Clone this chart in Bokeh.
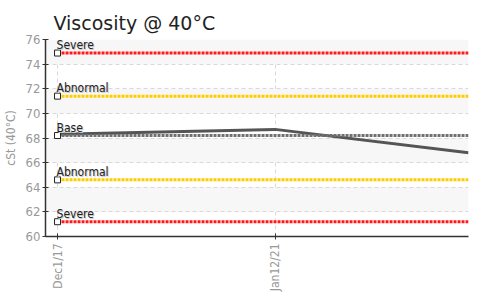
from datetime import datetime
from bokeh.plotting import figure
from bokeh.models import Range1d, FixedTicker, ColumnDataSource, Title
from bokeh.core.properties import value
from bokeh.embed import file_html
from bokeh.resources import INLINE

# ---- data ----
dates = ["2017-12-01", "2021-01-12", "2023-10-21"]
visc = [68.3, 68.7, 66.8]
tick_dates = ["2017-12-01", "2021-01-12"]
tick_labels = ["Dec1/17", "Jan12/21"]
limit_names = ["Severe", "Abnormal", "Base", "Abnormal", "Severe"]
limit_values = [74.9, 71.4, 68.2, 64.6, 61.2]
limit_colors = ["#ff1a1a", "#ffcc00", "#707070", "#ffcc00", "#ff1a1a"]
y_ticks = [60, 62, 64, 66, 68, 70, 72, 74, 76]
x_start, x_end = "2017-09-29", "2023-10-21"

NARROW = "DejaVu Sans Condensed"


def ms(s):
    return datetime.strptime(s, "%Y-%m-%d").timestamp() * 1000.0


xs = [ms(d) for d in dates]
x0, x1 = ms(x_start), ms(x_end)

p = figure(width=492, height=294, output_backend="svg",
           toolbar_location=None, x_axis_type="datetime",
           x_range=Range1d(x0, x1), y_range=Range1d(60, 76),
           min_border_left=40, min_border_right=24,
           min_border_top=39, min_border_bottom=52)
p.outline_line_color = None
p.background_fill_color = "white"

p.add_layout(Title(text="Viscosity @ 40°C", text_font="DejaVu Sans",
                   text_font_size="19px", text_font_style="normal",
                   text_color="#222222", offset=8, standoff=12), "above")

# grids
p.ygrid.ticker = FixedTicker(ticks=y_ticks)
p.ygrid.grid_line_color = "#d9d9d9"
p.ygrid.grid_line_dash = "4 3"
p.ygrid.band_fill_color = "#f7f7f7"
p.ygrid.band_fill_alpha = 1.0
tick_ms = [ms(d) for d in tick_dates]
p.xgrid.ticker = FixedTicker(ticks=tick_ms)
p.xgrid.grid_line_color = "#d9d9d9"
p.xgrid.grid_line_dash = "4 3"

# axes
p.yaxis.ticker = FixedTicker(ticks=y_ticks)
p.xaxis.ticker = FixedTicker(ticks=tick_ms)
p.xaxis.major_label_overrides = {t: l for t, l in zip(tick_ms, tick_labels)}
p.xaxis.major_label_orientation = 1.5708
for ax in (p.xaxis[0], p.yaxis[0]):
    ax.axis_line_color = "#333333"
    ax.axis_line_width = 1.5
    ax.major_tick_line_color = "#333333"
    ax.major_tick_in = 3
    ax.major_tick_out = 3
    ax.minor_tick_line_color = None
    ax.major_label_text_font = NARROW
    ax.major_label_text_font_size = "13px"
    ax.major_label_text_color = "#999999"
    ax.major_label_standoff = 2
p.xaxis.major_label_text_font_size = "12px"
p.xaxis.major_label_standoff = 4
p.yaxis.axis_label = "cSt (40°C)"
p.yaxis.axis_label_text_font = NARROW
p.yaxis.axis_label_text_font_size = "12px"
p.yaxis.axis_label_text_font_style = "normal"
p.yaxis.axis_label_text_color = "#999999"
p.yaxis.axis_label_standoff = 5

# data line
src = ColumnDataSource(dict(x=xs, y=visc))
p.line("x", "y", source=src, line_color="#555555", line_width=3)

# limit lines
first = xs[0]
for name, v, c in zip(limit_names, limit_values, limit_colors):
    p.segment(x0=[first], y0=[v], x1=[x1 + (x1 - x0)], y1=[v],
              line_color=c, line_width=3, line_dash="3 1")
    p.scatter([first], [v], marker="square", size=6, fill_color="white",
              line_color="#222222", line_width=1)
    p.text([first], [v], text=[name], x_offset=0, y_offset=0,
           text_font=value(NARROW), text_font_size="12px",
           text_color="#cccccc", text_baseline="bottom", text_align="left")
    p.text([first], [v], text=[name], x_offset=-1, y_offset=-1,
           text_font=value(NARROW), text_font_size="12px",
           text_color="#222222", text_baseline="bottom", text_align="left")

open("out.html", "w").write(file_html(p, INLINE))
